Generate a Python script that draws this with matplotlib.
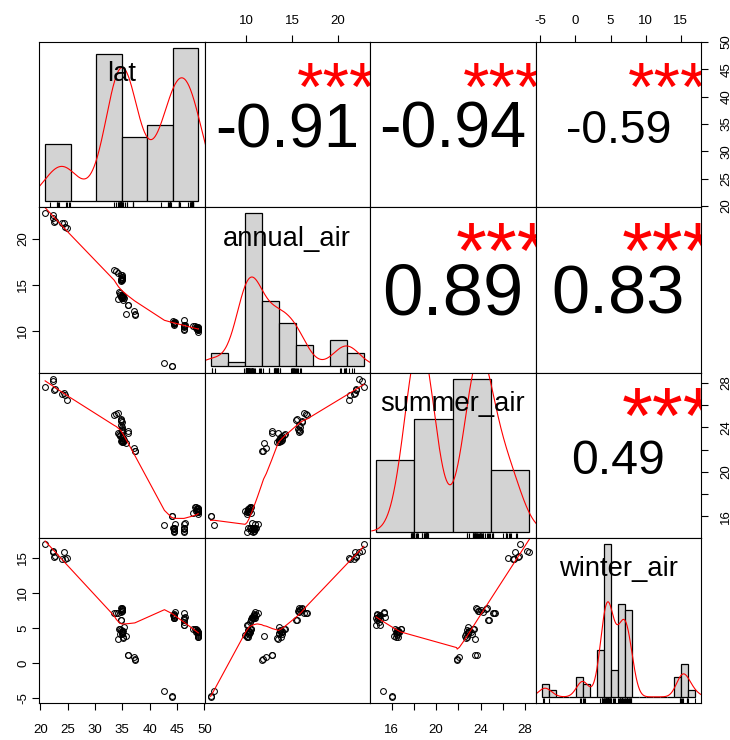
import numpy as np
import matplotlib
matplotlib.use("Agg")
import matplotlib.pyplot as plt
import matplotlib.transforms as mtransforms

plt.rcParams["font.family"] = ["Liberation Sans", "DejaVu Sans"]

names = ["lat", "annual_air", "summer_air", "winter_air"]

# one value per station (78 stations)
lat = [20.9, 22.4, 22.3, 22.7, 22.6, 24.3, 24.0, 24.9, 24.6,
       33.5, 34.3, 33.9,
       34.8, 34.9, 34.9, 34.95, 34.95, 34.9, 34.8, 34.95,
       34.75, 34.7,
       34.4, 34.5, 34.9, 34.9, 34.95, 34.8, 34.9, 34.95, 34.3, 34.6, 35.1, 35.2, 35.1, 35.3, 35.6,
       36.0, 36.1, 37.2, 37.3, 37.25,
       42.7, 44.0, 44.1,
       44.4, 44.4, 44.5, 44.4, 44.3, 44.5, 44.4, 44.6, 44.4,
       46.2, 46.3, 46.3, 46.2, 46.3, 46.4, 46.2, 46.3,
       48.3, 48.9, 48.9, 48.8, 48.6, 48.7, 48.9, 48.5, 48.8, 47.9, 48.9, 48.7, 48.6, 48.8, 48.4, 48.9]
annual_air = [22.8, 22.6, 22.3, 21.95, 21.9, 21.8, 21.7, 21.2, 21.3,
              16.6, 16.3, 16.5,
              16.1, 16.05, 15.9, 15.85, 15.8, 15.7, 15.7, 15.6,
              15.5, 15.4,
              14.2, 14.1, 13.9, 13.9, 13.8, 13.7, 13.6, 13.6, 13.5, 13.9, 13.8, 13.4, 13.7, 13.6, 11.9,
              12.85, 12.8, 12.2, 11.8, 11.7,
              6.5, 6.2, 6.15,
              10.9, 11.0, 10.8, 10.9, 11.1, 10.9, 10.7, 11.0, 10.9,
              11.25, 10.6, 10.1, 10.5, 10.4, 10.6, 10.2, 10.5,
              10.5, 10.3, 9.9, 10.4, 10.2, 10.3, 10.1, 10.4, 10.2, 10.5, 10.3, 10.2, 10.4, 10.1, 10.3, 10.2]
summer_air = [27.6, 28.2, 28.4, 27.5, 27.4, 27.1, 27.0, 26.5, 26.9,
              25.1, 25.3, 25.2,
              24.6, 24.5, 24.0, 23.7, 23.6, 23.8, 24.2, 23.9,
              24.8, 24.7,
              23.4, 23.3, 23.0, 22.9, 23.1, 22.8, 22.7, 22.9, 23.5, 23.2, 22.8, 22.7, 23.0, 22.9, 22.6,
              23.7, 23.5, 22.1, 21.9, 21.85,
              15.2, 16.05, 16.0,
              14.7, 14.8, 14.9, 14.7, 14.95, 14.8, 14.6, 15.3, 14.9,
              15.3, 14.8, 14.6, 14.95, 14.9, 15.4, 14.95, 14.7,
              16.8, 16.6, 16.5, 16.7, 16.5, 16.6, 16.2, 16.8, 16.4, 16.3, 16.5, 16.6, 16.7, 16.4, 16.5, 16.6]
winter_air = [17.0, 15.95, 15.9, 15.3, 15.2, 15.8, 14.8, 14.95, 14.9,
              7.2, 7.2, 7.1,
              7.8, 7.7, 7.6, 7.7, 7.8, 7.5, 7.3, 7.4,
              6.1, 6.2,
              4.8, 4.9, 4.6, 4.4, 4.5, 4.7, 4.2, 4.3, 3.4, 4.1, 3.7, 3.6, 4.6, 5.2, 3.9,
              1.1, 1.2, 0.95, 0.6, 0.5,
              -3.9, -4.7, -4.8,
              6.9, 6.5, 6.6, 6.95, 6.8, 6.4, 6.5, 7.3, 6.7,
              7.2, 6.5, 5.5, 6.3, 5.9, 6.6, 5.4, 6.2,
              4.8, 4.4, 4.05, 4.5, 4.7, 4.6, 3.9, 4.9, 4.3, 4.8, 4.2, 4.6, 4.5, 3.8, 4.4, 3.7]

# histogram breaks (as pretty() chose them in the original)
lat_breaks = np.arange(20, 51, 5)
annual_breaks = np.arange(6, 25, 2)
summer_breaks = np.arange(10, 31, 5)
winter_breaks = np.arange(-5, 18, 1)

# tick values on the outer axes
lat_ticks = [20, 25, 30, 35, 40, 45, 50]
annual_ticks = [10, 15, 20]
summer_ticks = [16, 18, 20, 22, 24, 26, 28]
summer_ticklabels = ["16", "", "20", "", "24", "", "28"]
winter_ticks = [-5, 0, 5, 10, 15]

# correlations and significance stars printed in the upper panels
cor_r = {(0, 1): -0.91, (0, 2): -0.94, (0, 3): -0.59,
         (1, 2): 0.89, (1, 3): 0.83, (2, 3): 0.49}
cor_stars = {(0, 1): "***", (0, 2): "***", (0, 3): "***",
             (1, 2): "***", (1, 3): "***", (2, 3): "***"}

data = [np.array(lat), np.array(annual_air), np.array(summer_air), np.array(winter_air)]
breaks = [lat_breaks, annual_breaks, summer_breaks, winter_breaks]


def padded(lo, hi):
    p = 0.04 * (hi - lo)
    return lo - p, hi + p


def density(x):
    # gaussian kde with bw.nrd0, like R's density()
    n = len(x)
    q75, q25 = np.percentile(x, [75, 25])
    bw = 0.9 * min(np.std(x, ddof=1), (q75 - q25) / 1.34) * n ** -0.2
    grid = np.linspace(x.min() - 3 * bw, x.max() + 3 * bw, 512)
    d = np.exp(-0.5 * ((grid[:, None] - x[None, :]) / bw) ** 2).sum(axis=1)
    return grid, d / (n * bw * np.sqrt(2 * np.pi))


def lowess(x, y, f=2 / 3, iters=3):
    o = np.argsort(x, kind="stable")
    x = np.asarray(x, float)[o]
    y = np.asarray(y, float)[o]
    n = len(x)
    k = max(2, min(n, int(f * n + 1e-7)))
    rw = np.ones(n)
    fit = np.zeros(n)
    for it in range(iters + 1):
        for i in range(n):
            d = np.abs(x - x[i])
            h = np.sort(d)[k - 1]
            u = np.clip(d / max(h, 1e-12), 0, 1)
            w = (1 - u ** 3) ** 3 * rw
            sw = w.sum()
            xm = (w * x).sum() / sw
            ym = (w * y).sum() / sw
            b = (w * (x - xm) ** 2).sum()
            slope = (w * (x - xm) * (y - ym)).sum() / b if b > 1e-10 else 0.0
            fit[i] = ym + slope * (x[i] - xm)
        if it < iters:
            res = y - fit
            s = np.median(np.abs(res))
            if s == 0:
                break
            u = np.clip(res / (6 * s), -1, 1)
            rw = (1 - u ** 2) ** 2
    return x, fit


W, H = 730, 740
L, R, T, B = 39, 701, 42, 703
pw = (R - L) / 4
ph = (B - T) / 4

fig = plt.figure(figsize=(W / 100, H / 100), dpi=100)
renderer = fig.canvas.get_renderer()

lims = [padded(v.min(), v.max()) for v in data]
tick_fs = 9.5

axes = [[None] * 4 for _ in range(4)]
for i in range(4):
    for j in range(4):
        ax = fig.add_axes([(L + j * pw) / W, (H - T - (i + 1) * ph) / H, pw / W, ph / H])
        axes[i][j] = ax
        for s in ax.spines.values():
            s.set_linewidth(0.8)
        ax.tick_params(which="both", bottom=False, top=False, left=False, right=False,
                       labelbottom=False, labeltop=False, labelleft=False, labelright=False,
                       length=5, width=0.8, labelsize=tick_fs)

        if i == j:
            x = data[i]
            br = breaks[i]
            counts, _ = np.histogram(x, bins=br, density=True)
            ax.hist(x, bins=br, density=True, color="#D3D3D3", edgecolor="black", linewidth=0.9)
            gx, gd = density(x)
            ax.plot(gx, gd, color="red", linewidth=0.8)
            tr = mtransforms.blended_transform_factory(ax.transData, ax.transAxes)
            ax.vlines(x, 0, 0.03, transform=tr, color="black", linewidth=0.8)
            ax.set_xlim(*padded(br[0], br[-1]))
            ax.set_ylim(*padded(0, counts.max()))
            ax.text(0.5, 0.833 - 4 / ph, names[i], transform=ax.transAxes, ha="center",
                    va="center", fontsize=19.7)
            ax.set_xticks([])
            ax.set_yticks([])
        elif i > j:
            x, y = data[j], data[i]
            ax.plot(x, y, "o", markerfacecolor="none", markeredgecolor="black",
                    markersize=4.2, markeredgewidth=0.75)
            sx, sy = lowess(x, y)
            ax.plot(sx, sy, color="red", linewidth=0.8)
            ax.set_xlim(*lims[j])
            ax.set_ylim(*lims[i])
        else:
            ax.set_xlim(*lims[j])
            ax.set_ylim(*lims[i])
            r = cor_r[(i, j)]
            txt = f"{r:.2f}"
            t = ax.text(0.5, 0.5 - 6 / ph, txt, transform=ax.transAxes, ha="center",
                        va="center", fontsize=10, clip_on=True)
            w10 = t.get_window_extent(renderer).width
            cex = 10 * 0.8 * 1.16 * pw / w10
            t.set_fontsize(cex * (abs(r) + 0.3) / 1.3)
            ax.text(0.8, 0.8 - 17 / ph, cor_stars[(i, j)], transform=ax.transAxes,
                    ha="center", va="center", fontsize=cex, color="red", clip_on=True)

# outer axes, alternating sides like pairs()
tick_sets = [(lat_ticks, [str(v) for v in lat_ticks]),
             (annual_ticks, [str(v) for v in annual_ticks]),
             (summer_ticks, summer_ticklabels),
             (winter_ticks, [str(v) for v in winter_ticks])]

for j in range(4):
    ax = axes[3][j] if j % 2 == 0 else axes[0][j]
    ticks, labels = tick_sets[j]
    ax.set_xticks(ticks)
    ax.set_xticklabels(labels)
    if j % 2 == 0:
        ax.tick_params(axis="x", bottom=True, labelbottom=True, direction="out", pad=10)
    else:
        ax.tick_params(axis="x", top=True, labeltop=True, direction="out", pad=6)

for i in range(4):
    ax = axes[i][3] if i % 2 == 0 else axes[i][0]
    ticks, labels = tick_sets[i]
    ax.set_yticks(ticks)
    ax.set_yticklabels(labels, rotation=90, va="center")
    if i % 2 == 0:
        ax.tick_params(axis="y", right=True, labelright=True, direction="out", pad=9)
    else:
        ax.tick_params(axis="y", left=True, labelleft=True, direction="out", pad=2)

fig.savefig("out.png", dpi=100)
